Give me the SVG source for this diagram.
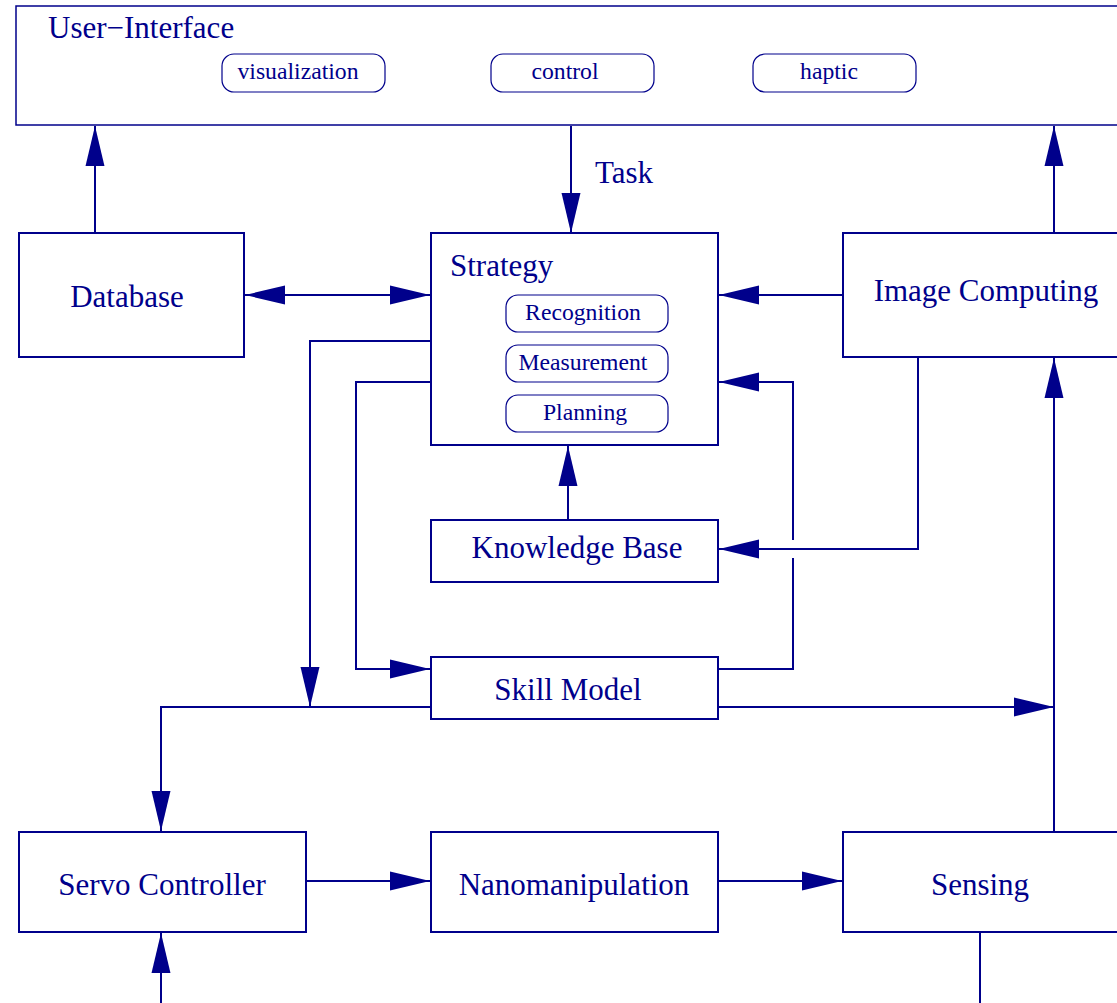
<svg xmlns="http://www.w3.org/2000/svg" width="1117" height="1003" viewBox="0 0 1117 1003">
<defs>
<style>
.box{fill:#fff;stroke:#00008b;stroke-width:2}
.ui{fill:#fff;stroke:#00008b;stroke-width:1.5}
.pill{fill:#fff;stroke:#00008b;stroke-width:1.2}
.t{font-family:"Liberation Serif","Times New Roman",serif;fill:#00008b;font-size:31px}
.s{font-family:"Liberation Serif","Times New Roman",serif;fill:#00008b;font-size:23.7px;text-anchor:middle}
.c{text-anchor:middle}
.ln{fill:none;stroke:#00008b;stroke-width:2}
.a{marker-end:url(#ah)}
</style>
<marker id="ah" markerUnits="userSpaceOnUse" markerWidth="40" markerHeight="20" refX="38" refY="9" orient="auto-start-reverse" viewBox="0 0 38 18">
<path d="M0,0 L38,9 L0,18 z" fill="#00008b"/>
</marker>
</defs>

<g id="connectors">
<path class="ln a" d="M95,236 V126"/>
<path class="ln a" d="M1054,236 V126"/>
<path class="ln a" d="M571,126 V233"/>
<path class="ln a" style="marker-start:url(#ah)" d="M245,295 H430"/>
<path class="ln a" d="M843,295 H719"/>
<path class="ln a" d="M568,520 V446"/>
<path class="ln a" d="M918,358 V549 H719"/>
<path class="ln" d="M718,669 H793 V558"/>
<path class="ln a" d="M793,540 V382 H719"/>
<path class="ln a" d="M430,382 H356 V669 H430"/>
<path class="ln a" d="M430,341 H310 V707"/>
<path class="ln a" d="M430,707 H161 V831"/>
<path class="ln a" d="M718,707 H1054"/>
<path class="ln a" d="M1054,832 V358"/>
<path class="ln a" d="M306,881 H430"/>
<path class="ln a" d="M718,881 H842"/>
<path class="ln a" d="M161,1003 V933"/>
<path class="ln" d="M980,932 V1003"/>
</g>

<g id="user-interface">
<rect class="ui" x="16" y="6" width="1110" height="119"/>
<text class="t" x="48" y="38">User−Interface</text>
<g id="visualization"><rect class="pill" x="222" y="54" width="163" height="38" rx="12"/><text class="s" x="298" y="79">visualization</text></g>
<g id="control"><rect class="pill" x="491" y="54" width="163" height="38" rx="12"/><text class="s" x="565" y="79">control</text></g>
<g id="haptic"><rect class="pill" x="753" y="54" width="163" height="38" rx="12"/><text class="s" x="829" y="79">haptic</text></g>
</g>

<g id="database">
<rect class="box" x="19" y="233" width="225" height="124"/>
<text class="t c" x="127" y="307">Database</text>
</g>

<g id="strategy">
<rect class="box" x="431" y="233" width="287" height="212"/>
<text class="t" x="450" y="276">Strategy</text>
<g id="recognition"><rect class="pill" x="506" y="295" width="162" height="37" rx="12"/><text class="s" x="583" y="320">Recognition</text></g>
<g id="measurement"><rect class="pill" x="506" y="345" width="162" height="37" rx="12"/><text class="s" x="583" y="370">Measurement</text></g>
<g id="planning"><rect class="pill" x="506" y="395" width="162" height="37" rx="12"/><text class="s" x="585" y="420">Planning</text></g>
</g>

<g id="image-computing">
<rect class="box" x="843" y="233" width="290" height="124"/>
<text class="t c" x="986" y="301">Image Computing</text>
</g>

<text class="t" x="595" y="183">Task</text>

<g id="knowledge-base">
<rect class="box" x="431" y="520" width="287" height="62"/>
<text class="t c" x="577" y="558">Knowledge Base</text>
</g>

<g id="skill-model">
<rect class="box" x="431" y="657" width="287" height="62"/>
<text class="t c" x="568" y="700">Skill Model</text>
</g>

<g id="servo-controller">
<rect class="box" x="19" y="832" width="287" height="100"/>
<text class="t c" x="162" y="895">Servo Controller</text>
</g>

<g id="nanomanipulation">
<rect class="box" x="431" y="832" width="287" height="100"/>
<text class="t c" x="574" y="895">Nanomanipulation</text>
</g>

<g id="sensing">
<rect class="box" x="843" y="832" width="290" height="100"/>
<text class="t c" x="980" y="895">Sensing</text>
</g>
</svg>
